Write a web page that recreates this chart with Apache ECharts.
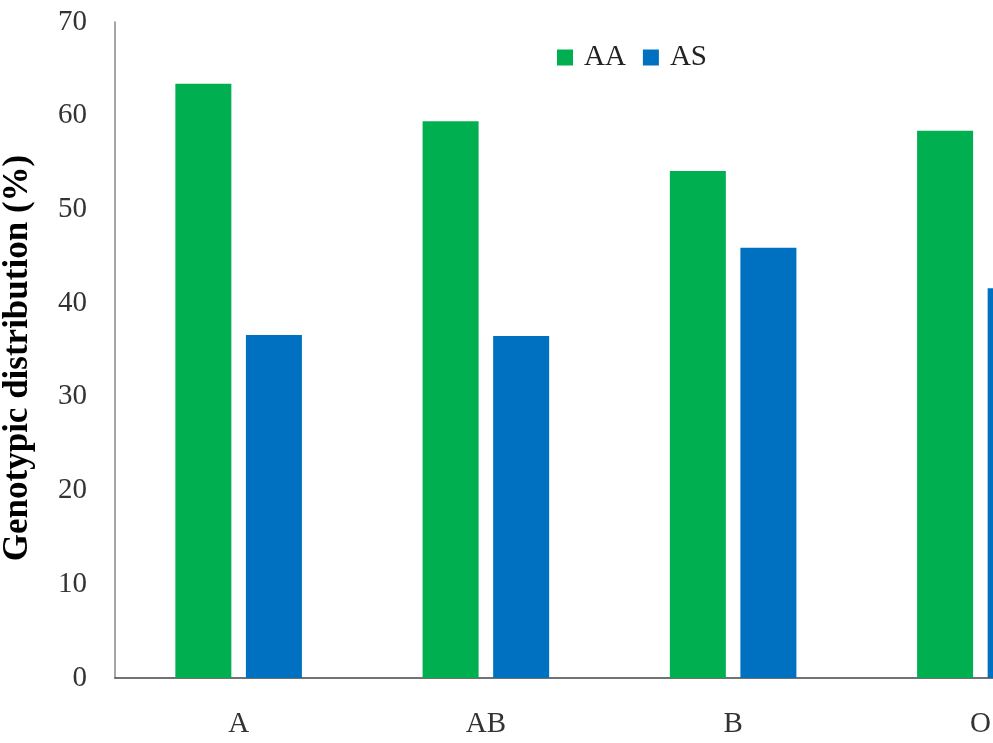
<!DOCTYPE html>
<html>
<head>
<meta charset="utf-8">
<script src="https://cdn.jsdelivr.net/npm/echarts@6/dist/echarts.min.js"></script>
<style>
  html, body { margin: 0; padding: 0; background: #fff; }
  #chart { width: 993px; height: 743px; }
</style>
</head>
<body>
<div id="chart"></div>
<script>
// Blood groups and the share of each haemoglobin genotype within them
const bloodGroups = ['A', 'AB', 'B', 'O'];
const genotypeAA = [63.4, 59.4, 54.1, 58.4];
const genotypeAS = [36.6, 36.5, 45.9, 41.6];
const yTicks = [0, 10, 20, 30, 40, 50, 60, 70];

const serif = '"Liberation Serif", "Times New Roman", serif';

const chart = echarts.init(document.getElementById('chart'), null, { renderer: 'canvas' });

chart.setOption({
  animation: false,
  backgroundColor: '#ffffff',
  // the plot area runs past the right edge of the canvas, so the last group is clipped
  grid: { left: 115, top: 22, width: 989, height: 656, containLabel: false, outerBoundsMode: 'none' },
  legend: {
    top: 38,
    left: 552,
    itemWidth: 16,
    itemHeight: 16,
    itemGap: 17,
    icon: 'rect',
    textStyle: { fontFamily: serif, fontSize: 29, color: '#222', padding: [0, 0, 0, 6] },
    data: ['AA', 'AS']
  },
  xAxis: {
    type: 'category',
    data: bloodGroups,
    axisLine: { lineStyle: { color: '#444', width: 1.5 } },
    axisTick: { show: false },
    axisLabel: { fontFamily: serif, fontSize: 29, color: '#333', margin: 32 }
  },
  yAxis: {
    type: 'value',
    min: yTicks[0],
    max: yTicks[yTicks.length - 1],
    interval: 10,
    name: 'Genotypic distribution (%)',
    nameLocation: 'middle',
    nameGap: 80,
    nameTextStyle: { fontFamily: serif, fontSize: 35, fontWeight: 'bold', color: '#000', padding: [0, 16, 0, 0] },
    axisLine: { show: true, lineStyle: { color: '#888', width: 1.5 } },
    axisTick: { show: false },
    splitLine: { show: false },
    axisLabel: { fontFamily: serif, fontSize: 29, color: '#333', margin: 28 }
  },
  series: [
    {
      name: 'AA',
      type: 'bar',
      data: genotypeAA,
      barWidth: 56,
      barGap: '26%',
      itemStyle: { color: '#00AF50' }
    },
    {
      name: 'AS',
      type: 'bar',
      data: genotypeAS,
      barWidth: 56,
      barGap: '26%',
      itemStyle: { color: '#0070C0' }
    }
  ]
});
</script>
</body>
</html>
